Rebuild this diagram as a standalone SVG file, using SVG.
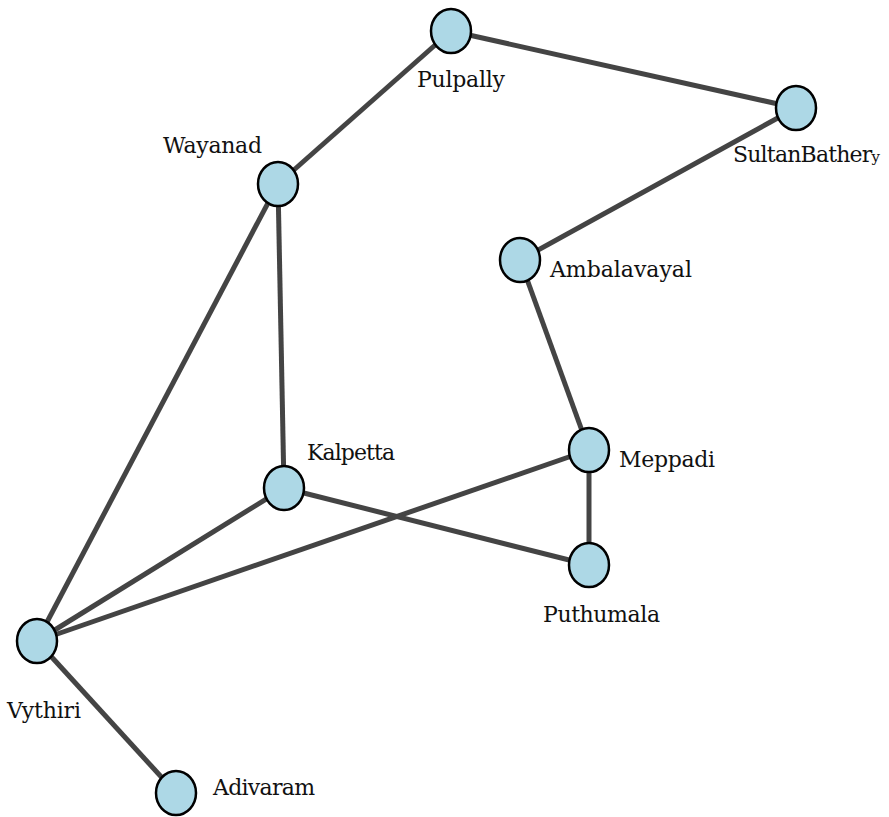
<svg xmlns="http://www.w3.org/2000/svg" width="889" height="817" viewBox="0 0 889 817">
<style>
.edge{stroke:#444;stroke-width:5;fill:none;stroke-linecap:butt}
.node{fill:#add8e6;stroke:#000;stroke-width:2.5}
.lbl{font-family:"DejaVu Serif","Liberation Serif",serif;font-size:22px;fill:#111}
</style>
<rect width="889" height="817" fill="#fff"/>
<g id="edges">
<line class="edge" x1="451" y1="31" x2="278" y2="184"/>
<line class="edge" x1="451" y1="31" x2="796" y2="108"/>
<line class="edge" x1="796" y1="108" x2="520" y2="260"/>
<line class="edge" x1="520" y1="260" x2="589" y2="450"/>
<line class="edge" x1="589" y1="450" x2="589" y2="565"/>
<line class="edge" x1="589" y1="450" x2="37" y2="641"/>
<line class="edge" x1="284" y1="488" x2="589" y2="565"/>
<line class="edge" x1="284" y1="488" x2="37" y2="641"/>
<line class="edge" x1="278" y1="184" x2="284" y2="488"/>
<line class="edge" x1="278" y1="184" x2="37" y2="641"/>
<line class="edge" x1="37" y1="641" x2="176" y2="793"/>
</g>
<g id="n-pulpally"><ellipse class="node" cx="451" cy="31" rx="20" ry="22"/><text class="lbl" x="417" y="87" textLength="88">Pulpally</text></g>
<g id="n-sultanbathery"><ellipse class="node" cx="796" cy="108" rx="20" ry="22"/><text class="lbl" x="733" y="162" textLength="147">SultanBather<tspan font-size="15">y</tspan></text></g>
<g id="n-wayanad"><ellipse class="node" cx="278" cy="184" rx="20" ry="22"/><text class="lbl" x="163" y="153" textLength="99">Wayanad</text></g>
<g id="n-ambalavayal"><ellipse class="node" cx="520" cy="260" rx="20" ry="22"/><text class="lbl" x="550" y="277" textLength="142">Ambalavayal</text></g>
<g id="n-kalpetta"><ellipse class="node" cx="284" cy="488" rx="20" ry="22"/><text class="lbl" x="307" y="460" textLength="88">Kalpetta</text></g>
<g id="n-meppadi"><ellipse class="node" cx="589" cy="450" rx="20" ry="22"/><text class="lbl" x="619" y="467" textLength="96">Meppadi</text></g>
<g id="n-puthumala"><ellipse class="node" cx="589" cy="565" rx="20" ry="22"/><text class="lbl" x="543" y="622" textLength="117">Puthumala</text></g>
<g id="n-vythiri"><ellipse class="node" cx="37" cy="641" rx="20" ry="22"/><text class="lbl" x="7" y="718" textLength="74">Vythiri</text></g>
<g id="n-adivaram"><ellipse class="node" cx="176" cy="793" rx="20" ry="22"/><text class="lbl" x="213" y="795" textLength="102">Adivaram</text></g>
</svg>
